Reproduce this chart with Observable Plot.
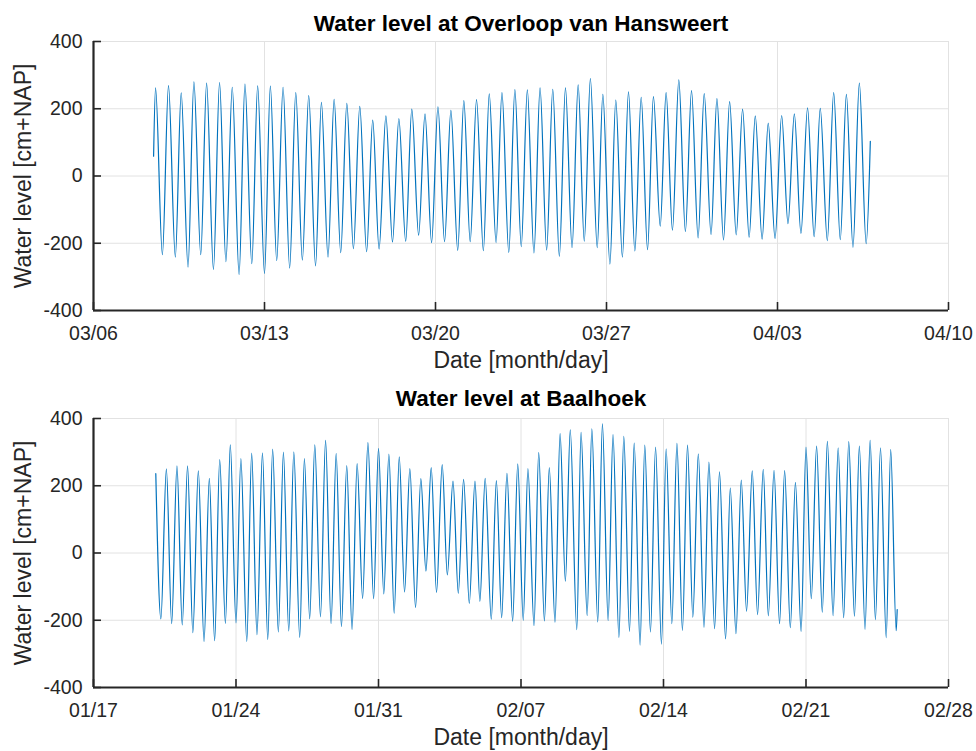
<!DOCTYPE html>
<html>
<head>
<meta charset="utf-8">
<script src="https://cdn.jsdelivr.net/npm/d3@7"></script>
<script src="https://cdn.jsdelivr.net/npm/@observablehq/plot@0.6"></script>
<style>
  body { margin: 0; background: #fff; }
  #chart svg { display: block; }
</style>
</head>
<body>
<div id="chart"></div>
<script>
// Tidal extremes (high and low water, plus the first and last samples) of each record.
// Times are days after the record's reference date, levels in cm relative to NAP.
const hansweertTitle = "Water level at Overloop van Hansweert";
const hansweertRef = "2021-03-06";
const hansweertDays = [
  2.46, 2.54, 2.82, 3.07, 3.35, 3.59, 3.87, 4.11, 4.39, 4.63, 4.91, 5.16, 5.42, 5.68, 5.96, 6.20,
  6.48, 6.72, 7.00, 7.24, 7.50, 7.76, 8.03, 8.28, 8.55, 8.81, 9.09, 9.33, 9.60, 9.85, 10.12, 10.37,
  10.64, 10.90, 11.18, 11.43, 11.69, 11.97, 12.24, 12.50, 12.78, 13.03, 13.31, 13.57, 13.84, 14.10,
  14.37, 14.63, 14.91, 15.16, 15.42, 15.68, 15.96, 16.20, 16.48, 16.72, 17.00, 17.25, 17.51, 17.76,
  18.03, 18.28, 18.55, 18.80, 19.07, 19.32, 19.59, 19.84, 20.09, 20.34, 20.62, 20.85, 21.14, 21.38,
  21.65, 21.90, 22.16, 22.42, 22.68, 22.92, 23.20, 23.44, 23.70, 23.96, 24.23, 24.48, 24.75, 25.00,
  25.28, 25.52, 25.79, 26.04, 26.31, 26.57, 26.84, 27.09, 27.37, 27.62, 27.90, 28.17, 28.43, 28.69,
  28.96, 29.23, 29.50, 29.75, 30.04, 30.30, 30.57, 30.82, 31.09, 31.35, 31.63, 31.80
];
const hansweertLevels = [
  59, 262, -234, 269, -241, 247, -271, 280, -234, 276, -278, 278, -255, 264, -293, 273,
  -261, 268, -290, 267, -252, 264, -274, 248, -250, 239, -267, 219, -241, 228, -228, 216,
  -216, 207, -225, 166, -217, 179, -196, 171, -194, 199, -176, 185, -198, 206,
  -195, 195, -221, 224, -195, 227, -222, 244, -198, 248, -227, 257, -210, 256,
  -229, 262, -220, 258, -239, 262, -213, 271, -194, 290, -213, 243, -262, 226,
  -241, 250, -223, 234, -219, 236, -149, 248, -161, 286, -165, 254, -184, 245,
  -174, 230, -190, 221, -175, 199, -182, 179, -188, 157, -186, 180, -142, 185,
  -171, 203, -180, 201, -192, 248, -189, 243, -212, 276, -201, 103
];
const hansweertTicks = ["2021-03-06", "2021-03-13", "2021-03-20", "2021-03-27", "2021-04-03", "2021-04-10"];

const baalhoekTitle = "Water level at Baalhoek";
const baalhoekRef = "2021-01-17";
const baalhoekDays = [
  3.06, 3.31, 3.58, 3.84, 4.10, 4.36, 4.62, 4.88, 5.15, 5.43, 5.69, 5.95, 6.20, 6.48, 6.72, 7.00,
  7.24, 7.53, 7.77, 8.03, 8.30, 8.56, 8.80, 9.08, 9.33, 9.59, 9.84, 10.13, 10.36, 10.62, 10.87, 11.15,
  11.40, 11.67, 11.92, 12.18, 12.44, 12.70, 12.95, 13.22, 13.48, 13.76, 14.00, 14.26, 14.51, 14.77,
  15.02, 15.28, 15.54, 15.82, 16.08, 16.33, 16.59, 16.85, 17.13, 17.38, 17.66, 17.92, 18.18, 18.46,
  18.74, 18.98, 19.24, 19.54, 19.79, 20.05, 20.31, 20.59, 20.84, 21.11, 21.34, 21.64, 21.87, 22.15,
  22.39, 22.67, 22.92, 23.18, 23.42, 23.74, 23.95, 24.25, 24.48, 24.77, 25.00, 25.28, 25.52, 25.81,
  26.05, 26.33, 26.56, 26.85, 27.08, 27.36, 27.61, 27.90, 28.13, 28.41, 28.66, 28.93, 29.18, 29.44,
  29.71, 29.99, 30.23, 30.51, 30.75, 31.05, 31.28, 31.56, 31.82, 32.08, 32.36, 32.62, 32.90, 33.15,
  33.43, 33.70, 33.95, 34.23, 34.48, 34.76, 35.00, 35.26, 35.52, 35.80, 36.05, 36.33, 36.58, 36.85,
  37.10, 37.38, 37.62, 37.90, 38.15, 38.41, 38.66, 38.94, 39.16, 39.43, 39.48
];
const baalhoekLevels = [
  236, -196, 250, -210, 259, -214, 259, -237, 244, -263, 222, -261, 278, -209, 322, -208,
  281, -263, 297, -243, 298, -257, 309, -235, 300, -232, 301, -251, 281, -196, 322, -190,
  335, -210, 296, -219, 260, -227, 266, -135, 328, -136, 311, -122, 294, -179,
  286, -116, 251, -162, 221, -54, 254, -117, 263, -65, 214, -120, 219, -150,
  214, -144, 222, -197, 215, -192, 237, -203, 265, -200, 251, -216, 299, -202,
  254, -206, 355, -84, 366, -228, 359, -186, 369, -205, 384, -201, 352, -251,
  347, -233, 327, -274, 321, -235, 315, -271, 310, -210, 326, -230, 321, -191,
  295, -221, 270, -225, 241, -255, 193, -240, 217, -173, 244, -183, 249, -187,
  246, -210, 245, -222, 210, -233, 315, -136, 318, -176, 332, -186, 313, -192,
  331, -188, 318, -227, 335, -198, 313, -252, 308, -231, -168
];
const baalhoekTicks = ["2021-01-17", "2021-01-24", "2021-01-31", "2021-02-07", "2021-02-14", "2021-02-21", "2021-02-28"];

const levelTicks = [-400, -200, 0, 200, 400];
const xLabel = "Date [month/day]";
const yLabel = "Water level [cm+NAP]";

const lineColor = "#0072BD";
const axisColor = "#262626";
const gridColor = "#e2e2e2";
const fontFamily = "'Liberation Sans', Arial, Helvetica, sans-serif";

function toRows(ref, days, levels) {
  const t0 = Date.parse(ref);
  return days.map((d, i) => ({date: new Date(t0 + d * 864e5), level: levels[i]}));
}

function panel({title, rows, tickStrings, height, marginTop, marginBottom, titleDy}) {
  const ticks = tickStrings.map(s => new Date(s));
  const domain = [ticks[0], ticks[ticks.length - 1]];
  return Plot.plot({
    width: 976,
    height,
    marginTop,
    marginBottom,
    marginLeft: 93,
    marginRight: 28,
    style: {fontFamily, fontSize: "19.5px", color: axisColor, background: "white", overflow: "visible"},
    x: {type: "utc", domain, label: null},
    y: {domain: [-400, 400], label: null},
    marks: [
      Plot.gridX(ticks, {stroke: gridColor, strokeOpacity: 1}),
      Plot.gridY(levelTicks, {stroke: gridColor, strokeOpacity: 1}),
      Plot.line(rows, {x: "date", y: "level", stroke: lineColor, strokeWidth: 1.2, curve: "monotone-x"}),
      // inward tick marks
      Plot.axisX(ticks, {tickSize: -8, tickFormat: () => "", stroke: axisColor, strokeWidth: 1.6, label: null}),
      Plot.axisY(levelTicks, {tickSize: -8, tickFormat: () => "", stroke: axisColor, strokeWidth: 1.6, label: null}),
      // tick labels (plain hyphen for negative numbers)
      Plot.axisX(ticks, {tickSize: 0, tickPadding: 16, tickFormat: d3.utcFormat("%m/%d"), fontSize: 19.5, fill: axisColor, label: null}),
      Plot.axisY(levelTicks, {tickSize: 0, tickPadding: 11, tickFormat: d => String(d), fontSize: 19.5, fill: axisColor, label: null}),
      // axis lines
      Plot.ruleY([-400], {stroke: axisColor, strokeWidth: 2.2}),
      Plot.ruleX([domain[0]], {stroke: axisColor, strokeWidth: 2.2}),
      // axis titles and panel title
      Plot.text([xLabel], {frameAnchor: "bottom", textAnchor: "middle", lineAnchor: "middle", dy: 50, fontSize: 23, fill: axisColor}),
      Plot.text([yLabel], {frameAnchor: "left", textAnchor: "middle", lineAnchor: "middle", rotate: -90, dx: -70, fontSize: 23, fill: axisColor}),
      Plot.text([title], {frameAnchor: "top", textAnchor: "middle", lineAnchor: "middle", dy: titleDy, fontSize: 22.5, fontWeight: "bold", fill: "black"})
    ]
  });
}

const chart = document.getElementById("chart");
chart.append(panel({
  title: hansweertTitle,
  rows: toRows(hansweertRef, hansweertDays, hansweertLevels),
  tickStrings: hansweertTicks,
  height: 375, marginTop: 41, marginBottom: 65, titleDy: -18
}));
chart.append(panel({
  title: baalhoekTitle,
  rows: toRows(baalhoekRef, baalhoekDays, baalhoekLevels),
  tickStrings: baalhoekTicks,
  height: 376, marginTop: 43, marginBottom: 64, titleDy: -20
}));
</script>
</body>
</html>
